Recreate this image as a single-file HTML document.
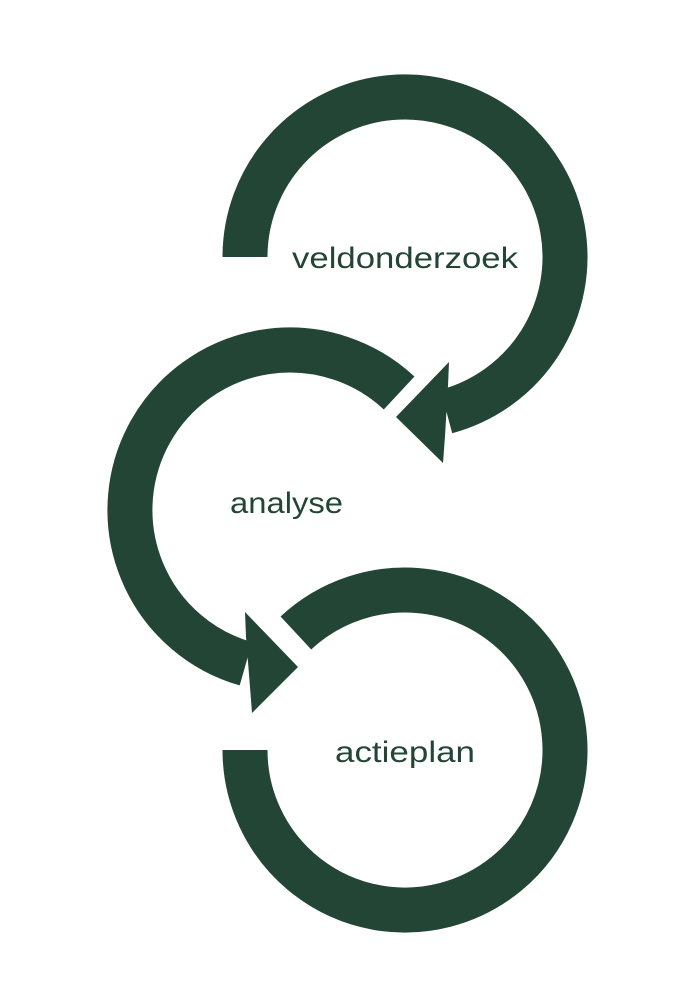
<!DOCTYPE html>
<html><head><meta charset="utf-8"><style>html,body{margin:0;padding:0;background:#fff}svg{display:block}</style></head>
<body>
<svg width="700" height="1000" viewBox="0 0 700 1000" xmlns="http://www.w3.org/2000/svg">
<g fill="none" stroke="#234535" stroke-width="45" stroke-linecap="butt">
<path d="M245 257 A160 160 0 1 1 446.4 411.5"/>
<path d="M399.1 393 A160 160 0 1 0 245.9 663.8"/>
<path d="M245 750 A160 160 0 1 0 295.9 633"/>
</g>
<g fill="#234535">
<polygon points="448,386 449,362 396,417 443,463 445,436"/>
<polygon points="246,637 245,612 298,667 252,713 250,687"/>
</g>
<g fill="#234535" font-family="Liberation Sans, sans-serif" font-size="30">
<text x="292" y="268" textLength="226" lengthAdjust="spacingAndGlyphs">veldonderzoek</text>
<text x="230" y="513" textLength="113" lengthAdjust="spacingAndGlyphs">analyse</text>
<text x="335" y="762" textLength="140" lengthAdjust="spacingAndGlyphs">actieplan</text>
</g>
</svg>
</body></html>
